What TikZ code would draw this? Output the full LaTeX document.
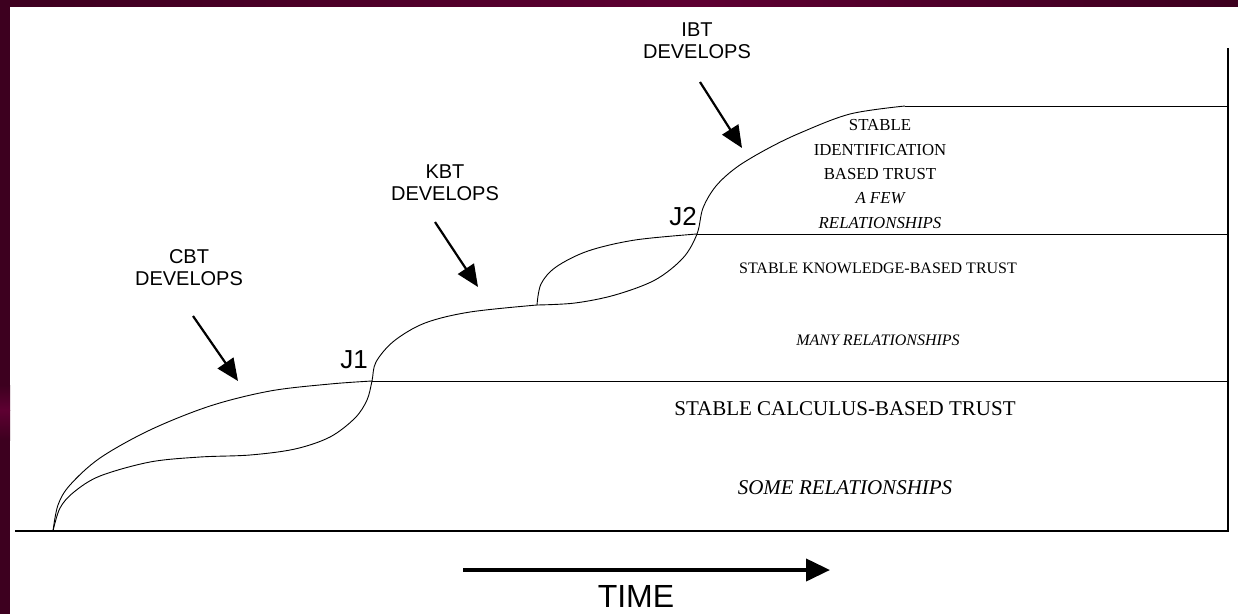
\documentclass[tikz,border=0pt]{standalone}
\usepackage{fontspec}
\setmainfont{Liberation Serif}
\setsansfont{Liberation Sans}
\usetikzlibrary{arrows.meta}
\definecolor{maroonA}{HTML}{3D001F}
\definecolor{maroonB}{HTML}{5E0032}
\tikzset{
  curve/.style={line width=0.9pt},
  frameline/.style={line width=1.1pt},
  devarrow/.style={line width=2.2pt, -{Triangle[length=22pt,width=19pt]}},
  timearrow/.style={line width=4pt, -{Triangle[length=24pt,width=22pt]}},
  devlabel/.style={font=\sffamily\fontsize{20}{22}\selectfont, align=center, inner sep=0pt},
  jlabel/.style={font=\sffamily\fontsize{26}{28}\selectfont, inner sep=0pt},
  timelabel/.style={font=\sffamily\fontsize{32}{34}\selectfont, inner sep=0pt},
  bigserif/.style={font=\fontsize{21}{24}\selectfont, inner sep=0pt},
  smallserif/.style={font=\fontsize{16}{24.3}\selectfont, align=center, inner sep=0pt},
  identserif/.style={font=\fontsize{16.8}{24.3}\selectfont, align=center, inner sep=0pt},
}
\begin{document}
\begin{tikzpicture}[x=1pt,y=-1pt]
\useasboundingbox (0,0) rectangle (1238,614);
% frame
\fill[white] (0,0) rectangle (1238,614);
\shade[left color=maroonA, right color=maroonB] (0,0) rectangle (700,6);
\shade[left color=maroonB, right color=maroonA] (700,0) rectangle (1238,6);
\fill[maroonA] (0,0) rectangle (10,614);
\shade[top color=maroonA, bottom color=maroonB] (0,385) rectangle (10,410);
\shade[top color=maroonB, bottom color=maroonA] (0,410) rectangle (10,440);

% key points
\coordinate (O) at (53,531);
\coordinate (J1) at (372,381);
\coordinate (L) at (537,305);
\coordinate (J2) at (697,234);
\coordinate (T) at (905,106);
\coordinate (R0) at (1228,531);
\coordinate (R1) at (1228,381);
\coordinate (R2) at (1228,234);
\coordinate (R3) at (1228,106);
\coordinate (Rtop) at (1228,48);
\coordinate (B0) at (15,531);

% axes
\draw[frameline] (B0) -- (R0) -- (Rtop);
\draw[curve] (J1) -- (R1);
\draw[curve] (J2) -- (R2);
\draw[curve] (T) -- (R3);

% upper CBT curve: origin -> J1
\draw[curve] plot[smooth, tension=0.55] coordinates {(O) (58,505) (70,485) (100,458) (150,430) (210,406) (270,391) (330,384) (J1)};
% lower curve: origin -> J1 -> L
\draw[curve] plot[smooth, tension=0.55] coordinates {(O) (60,508) (74,492) (100,476) (150,462) (200,457) (250,455) (295,449) (330,437) (355,418) (367,400) (J1) (376,362) (394,341) (425,323) (470,312) (L)};
% loop lower branch: L -> J2 -> top
\draw[curve] plot[smooth, tension=0.55] coordinates {(L) (575,303) (615,295) (655,280) (683,258) (J2) (703,208) (716,186) (737,167) (767,149) (800,133) (850,114) (T)};
% loop upper branch: L -> J2
\draw[curve] plot[smooth, tension=0.55] coordinates {(L) (541,284) (556,267) (588,251) (635,240) (J2)};

% labels
\node[devlabel] (cbt) at (189,268) {CBT\\DEVELOPS};
\node[devlabel] (kbt) at (445,183) {KBT\\DEVELOPS};
\node[devlabel] (ibt) at (697,41) {IBT\\DEVELOPS};
\coordinate (cbtA) at (193,316);
\coordinate (cbtB) at (238,381);
\coordinate (kbtA) at (435,222);
\coordinate (kbtB) at (478,287);
\coordinate (ibtA) at (700,82);
\coordinate (ibtB) at (742,148);
\draw[devarrow] (cbtA) -- (cbtB);
\draw[devarrow] (kbtA) -- (kbtB);
\draw[devarrow] (ibtA) -- (ibtB);

\node[jlabel] (j1) at (354,360) {J1};
\node[jlabel] (j2) at (683,217) {J2};

\node[bigserif] (calc) at (845,409) {STABLE CALCULUS-BASED TRUST};
\node[bigserif] (some) at (845,488) {\itshape SOME RELATIONSHIPS};
\node[smallserif] (know) at (878,268) {STABLE KNOWLEDGE-BASED TRUST};
\node[smallserif] (many) at (878,340) {\itshape MANY RELATIONSHIPS};
\node[identserif] (ident) at (880,174) {STABLE\\IDENTIFICATION\\BASED TRUST\\\itshape A FEW\\\itshape RELATIONSHIPS};

\coordinate (tA) at (463,570);
\coordinate (tB) at (830,570);
\draw[timearrow] (tA) -- (tB);
\node[timelabel] (time) at (636,596) {TIME};
\end{tikzpicture}
\end{document}
